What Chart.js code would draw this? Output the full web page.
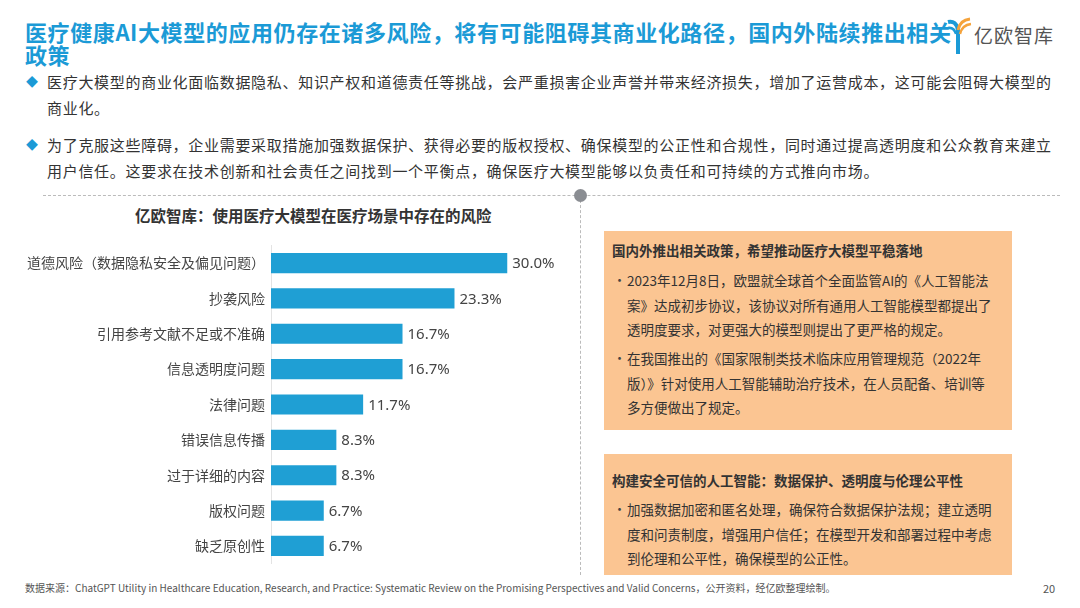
<!DOCTYPE html>
<html>
<head>
<meta charset="utf-8">
<script src="https://cdn.jsdelivr.net/npm/chart.js@4.4.1/dist/chart.umd.min.js"></script>
<style>
  body { margin: 0; width: 1080px; height: 608px; background: #fff; position: relative; overflow: hidden;
         font-family: "Noto Sans CJK SC", "Noto Sans", sans-serif; color: #333; }
  .abs { position: absolute; white-space: nowrap; }
  #title { left: 25px; top: 20px; font-size: 22px; font-weight: bold; color: #1b9ad6; line-height: 23px; letter-spacing: 0.6px; }
  .para { left: 47px; font-size: 15px; line-height: 26px; color: #333; letter-spacing: 0.7px; }
  .dia { left: 26px; font-size: 12px; color: #1b9ad6; }
  #chartTitle { left: 135px; top: 204px; font-size: 15.5px; font-weight: bold; color: #333; }
  .box { background: #fbc592; position: absolute; }
  .bh { font-size: 13.5px; font-weight: bold; color: #333; }
  .bt { font-size: 13.5px; color: #333; line-height: 24.5px; }
  .dot { font-size: 13px; color: #444; }
  #foot { left: 25px; top: 580px; font-size: 10px; color: #555; }
  #page { left: 1043px; top: 580px; font-size: 11px; color: #555; }
  #hline { left: 43px; top: 195px; width: 1017px; border-top: 1.5px dashed #bbb; }
  #vline { left: 580px; top: 195px; height: 380px; border-left: 1.5px dashed #bbb; }
  #circ { left: 574px; top: 189px; width: 13px; height: 13px; border-radius: 50%; background: #8a8d92; }
  #logoText { left: 974px; top: 21px; font-size: 19px; color: #555; letter-spacing: 1px; }
</style>
</head>
<body>
<div id="title" class="abs">医疗健康AI大模型的应用仍存在诸多风险，将有可能阻碍其商业化路径，国内外陆续推出相关<br>政策</div>
<svg class="abs" style="left:944px;top:16px" width="30" height="40" viewBox="0 0 30 40">
  <path d="M4 6 Q12 4 14 14 L14 38" stroke="#1b9ad6" stroke-width="4" fill="none"/>
  <path d="M14 14 Q16 4 26 3" stroke="#f5a33c" stroke-width="3" fill="none"/>
  <path d="M16 18 Q18 9 27 8" stroke="#f5a33c" stroke-width="2.5" fill="none"/>
  <path d="M4 12 Q10 11 12 18" stroke="#1b9ad6" stroke-width="2.5" fill="none"/>
</svg>
<div id="logoText" class="abs">亿欧智库</div>

<div class="abs dia" style="top:73px">◆</div>
<div class="abs para" style="top:69px">医疗大模型的商业化面临数据隐私、知识产权和道德责任等挑战，会严重损害企业声誉并带来经济损失，增加了运营成本，这可能会阻碍大模型的<br>商业化。</div>
<div class="abs dia" style="top:136px">◆</div>
<div class="abs para" style="top:132px">为了克服这些障碍，企业需要采取措施加强数据保护、获得必要的版权授权、确保模型的公正性和合规性，同时通过提高透明度和公众教育来建立<br>用户信任。这要求在技术创新和社会责任之间找到一个平衡点，确保医疗大模型能够以负责任和可持续的方式推向市场。</div>

<div id="hline" class="abs"></div>
<div id="vline" class="abs"></div>
<div id="circ" class="abs"></div>

<div id="chartTitle" class="abs">亿欧智库：使用医疗大模型在医疗场景中存在的风险</div>
<canvas id="riskChart" class="abs" style="left:0;top:231px"></canvas>

<div class="box" style="left:604px;top:231px;width:408px;height:199px"></div>
<div class="abs bh" style="left:612px;top:240px">国内外推出相关政策，希望推动医疗大模型平稳落地</div>
<div class="abs dot" style="left:613px;top:270px">•</div>
<div class="abs bt" style="left:627px;top:268px">2023年12月8日，欧盟就全球首个全面监管AI的《人工智能法<br>案》达成初步协议，该协议对所有通用人工智能模型都提出了<br>透明度要求，对更强大的模型则提出了更严格的规定。</div>
<div class="abs dot" style="left:613px;top:348px">•</div>
<div class="abs bt" style="left:627px;top:346px">在我国推出的《国家限制类技术临床应用管理规范（2022年<br>版）》针对使用人工智能辅助治疗技术，在人员配备、培训等<br>多方便做出了规定。</div>

<div class="box" style="left:604px;top:454px;width:408px;height:121px"></div>
<div class="abs bh" style="left:612px;top:470px">构建安全可信的人工智能：数据保护、透明度与伦理公平性</div>
<div class="abs dot" style="left:613px;top:499px">•</div>
<div class="abs bt" style="left:627px;top:497px">加强数据加密和匿名处理，确保符合数据保护法规；建立透明<br>度和问责制度，增强用户信任；在模型开发和部署过程中考虑<br>到伦理和公平性，确保模型的公正性。</div>

<div id="foot" class="abs">数据来源：ChatGPT Utility in Healthcare Education, Research, and Practice: Systematic Review on the Promising Perspectives and Valid Concerns，公开资料，经亿欧整理绘制。</div>
<div id="page" class="abs">20</div>

<script>
const riskLabels = ['道德风险（数据隐私安全及偏见问题）', '抄袭风险', '引用参考文献不足或不准确', '信息透明度问题',
  '法律问题', '错误信息传播', '过于详细的内容', '版权问题', '缺乏原创性'];
const riskValues = [30.0, 23.3, 16.7, 16.7, 11.7, 8.3, 8.3, 6.7, 6.7];

// value labels at bar ends
const barLabels = {
  id: 'barLabels',
  afterDatasetsDraw(chart) {
    const ctx = chart.ctx;
    const meta = chart.getDatasetMeta(0);
    ctx.save();
    ctx.font = '15px "Noto Sans", "DejaVu Sans", sans-serif';
    ctx.fillStyle = '#444';
    ctx.textBaseline = 'middle';
    meta.data.forEach((bar, i) => {
      ctx.fillText(riskValues[i].toFixed(1) + '%', bar.x + 5, bar.y + 1);
    });
    ctx.restore();
  }
};

const canvas = document.getElementById('riskChart');
canvas.style.width = '586px';
canvas.style.height = '347px';
canvas.width = 586;
canvas.height = 347;

new Chart(canvas, {
  type: 'bar',
  data: {
    labels: riskLabels,
    datasets: [{
      data: riskValues,
      backgroundColor: '#1f9fd4',
      barPercentage: 0.57,
      categoryPercentage: 1.0
    }]
  },
  options: {
    indexAxis: 'y',
    responsive: false,
    animation: false,
    layout: { padding: { top: 4, bottom: 7, left: 0, right: 0 } },
    plugins: { legend: { display: false }, tooltip: { enabled: false } },
    scales: {
      x: { display: false, min: 0, max: 40 },
      y: {
        afterFit(scale) { scale.width = 271; },
        grid: { display: false, drawTicks: false },
        border: { color: '#e3e3e3', width: 1 },
        ticks: {
          padding: 6,
          color: '#444',
          font: { size: 14, family: '"Noto Sans CJK SC", sans-serif' }
        }
      }
    }
  },
  plugins: [barLabels]
});
</script>
</body>
</html>
